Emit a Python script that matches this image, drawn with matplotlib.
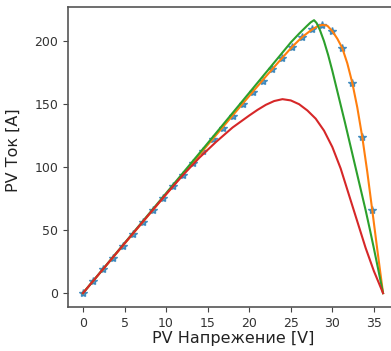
import matplotlib
matplotlib.use('Agg')
import matplotlib.pyplot as plt

# stars (measured points)
v_star = [0, 1.2, 2.4, 3.6, 4.8, 6.0, 7.2, 8.4, 9.6, 10.8, 12.0, 13.2, 14.4, 15.6,
          16.8, 18.0, 19.2, 20.4, 21.6, 22.8, 24.0, 25.2, 26.4, 27.6, 28.8, 30.0,
          31.2, 32.4, 33.6, 34.8]
p_star = [0, 9.4, 18.8, 28.2, 37.6, 47, 56.5, 66, 75.3, 84.7, 94, 103.5, 113, 122.3,
          131.5, 141, 150.3, 159.6, 168.8, 178, 187, 195.8, 203.5, 209.5, 213, 208,
          194.5, 167, 124, 66]

# orange model curve
v_orange = [0, 5, 10, 15, 20, 22, 24, 25.2, 26.4, 27.6, 28.2, 28.8, 29.4, 30.0,
            30.6, 31.2, 31.8, 32.4, 33.0, 33.6, 34.2, 34.8, 35.4, 36.1]
p_orange = [0, 39.2, 78.4, 117.6, 156.5, 172, 187, 195.8, 203.5, 209.5, 211.8, 213,
            212.3, 208, 202, 194.5, 182.5, 167, 147.5, 124, 96.5, 66, 35, 0]

# green curve
v_green = [0, 5, 10, 15, 20, 22, 24, 25, 26, 27, 27.4, 27.8, 28.1, 28.5, 29.0,
           29.5, 30.0, 30.5, 31.0, 31.5, 32.0, 32.5, 33.0, 33.5, 34.0, 34.5, 35.0,
           35.5, 36.1]
p_green = [0, 39.7, 79.3, 119, 159, 175, 191, 199, 206, 212.5, 215, 216.7, 214.5,
           209, 200, 189, 176.5, 163, 149.5, 136, 122, 108, 94, 80, 66, 51, 35.5,
           19.5, 0]

# red curve
v_red = [0, 2, 5, 8, 10, 12, 14, 16, 18, 20, 21, 22, 23, 24, 25, 26, 27, 28, 29,
         30, 31, 32, 33, 34, 35, 35.6, 36.1]
p_red = [0, 15.8, 39.5, 63, 78.5, 93.5, 107.5, 120, 131.5, 141, 145.5, 149.5, 152.5,
         154, 153, 150, 145, 138.5, 129, 116, 99, 78, 57, 36, 17.5, 8, 0]

fig = plt.figure(figsize=(3.91, 3.51), dpi=100)
ax = fig.add_axes([68 / 391, 44 / 351, 330 / 391, 300.3 / 351])

ax.plot(v_star, p_star, '*', color='C0', markersize=6, alpha=0.75)
ax.plot(v_orange, p_orange, color='C1', lw=1.5)
ax.plot(v_green, p_green, color='C2', lw=1.5)
ax.plot(v_red, p_red, color='C3', lw=1.5)

ax.set_xlim(-1.8, 37.9)
ax.set_ylim(-11, 227.4)
ax.set_xticks([0, 5, 10, 15, 20, 25, 30, 35])
ax.set_yticks([0, 50, 100, 150, 200])

tick_font = ['DejaVu Sans Condensed', 'DejaVu Sans']
for lab in ax.get_xticklabels() + ax.get_yticklabels():
    lab.set_fontfamily(tick_font)
    lab.set_fontsize(9)
    lab.set_color('#333333')
ax.tick_params(colors='#444444', labelcolor='#333333')
for s in ax.spines.values():
    s.set_color('#555555')
    s.set_linewidth(1.2)

ax.set_xlabel('PV Напрежение [V]', fontsize=11.5, color='#222222', labelpad=1)
ax.set_ylabel('PV Ток [A]', fontsize=11.5, color='#222222')
ax.yaxis.set_label_coords(-0.142, 0.523)

fig.savefig('out.png', dpi=100)
